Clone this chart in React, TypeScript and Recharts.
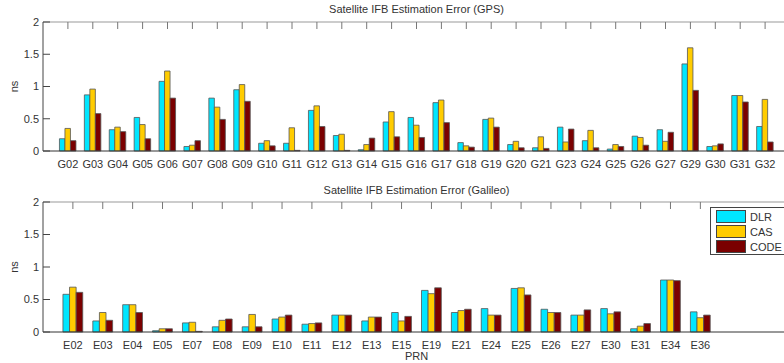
import React from 'react';
import { BarChart, Bar, XAxis, YAxis } from 'recharts';

const gpsPrn = ['G02', 'G03', 'G04', 'G05', 'G06', 'G07', 'G08', 'G09', 'G10', 'G11', 'G12', 'G13', 'G14', 'G15', 'G16', 'G17', 'G18', 'G19', 'G20', 'G21', 'G23', 'G24', 'G25', 'G26', 'G27', 'G29', 'G30', 'G31', 'G32'];
const gpsDlr = [0.19, 0.87, 0.33, 0.52, 1.08, 0.07, 0.82, 0.95, 0.12, 0.12, 0.63, 0.24, 0.02, 0.45, 0.52, 0.75, 0.13, 0.49, 0.10, 0.05, 0.37, 0.16, 0.03, 0.23, 0.33, 1.35, 0.07, 0.86, 0.38];
const gpsCas = [0.35, 0.96, 0.37, 0.41, 1.24, 0.09, 0.68, 1.03, 0.16, 0.36, 0.70, 0.26, 0.10, 0.61, 0.40, 0.79, 0.08, 0.51, 0.15, 0.22, 0.14, 0.32, 0.10, 0.21, 0.15, 1.60, 0.08, 0.86, 0.80];
const gpsCode = [0.16, 0.58, 0.30, 0.19, 0.82, 0.16, 0.49, 0.77, 0.08, 0.01, 0.38, 0.01, 0.20, 0.22, 0.21, 0.44, 0.06, 0.37, 0.05, 0.04, 0.34, 0.05, 0.07, 0.09, 0.29, 0.94, 0.11, 0.76, 0.14];

const galPrn = ['E02', 'E03', 'E04', 'E05', 'E07', 'E08', 'E09', 'E10', 'E11', 'E12', 'E13', 'E15', 'E19', 'E21', 'E24', 'E25', 'E26', 'E27', 'E30', 'E31', 'E34', 'E36'];
const galDlr = [0.58, 0.17, 0.42, 0.02, 0.14, 0.08, 0.08, 0.20, 0.12, 0.26, 0.17, 0.30, 0.64, 0.30, 0.36, 0.67, 0.35, 0.26, 0.36, 0.05, 0.80, 0.31];
const galCas = [0.69, 0.30, 0.42, 0.05, 0.15, 0.18, 0.27, 0.23, 0.13, 0.26, 0.23, 0.17, 0.59, 0.33, 0.26, 0.68, 0.30, 0.26, 0.28, 0.09, 0.80, 0.22];
const galCode = [0.61, 0.18, 0.30, 0.05, 0.01, 0.20, 0.08, 0.26, 0.14, 0.26, 0.23, 0.24, 0.68, 0.35, 0.26, 0.57, 0.30, 0.34, 0.31, 0.13, 0.79, 0.26];

const yTicks = [0, 0.5, 1, 1.5, 2];

const SERIES = [
  { key: 'DLR', color: '#00e6ff' },
  { key: 'CAS', color: '#ffcc00' },
  { key: 'CODE', color: '#7a0000' },
];

const FONT = '"Liberation Sans", Arial, sans-serif';
const TEXT = '#333';

const gpsData = gpsPrn.map((prn, i) => ({ prn, DLR: gpsDlr[i], CAS: gpsCas[i], CODE: gpsCode[i] }));
const galData = galPrn.map((prn, i) => ({ prn, DLR: galDlr[i], CAS: galCas[i], CODE: galCode[i] }));

const tickStyle = { fontSize: 11, fill: TEXT, fontFamily: FONT };

const NsLabel = (p: any) => {
  const vb = p.viewBox;
  const cx = 14;
  const cy = vb.y + vb.height / 2;
  return (
    <text x={cx} y={cy} transform={`rotate(-90 ${cx} ${cy})`} textAnchor="middle" dominantBaseline="central" fontSize={11} fill={TEXT} fontFamily={FONT}>
      ns
    </text>
  );
};

const PrnLabel = (p: any) => {
  const vb = p.viewBox;
  return (
    <text x={vb.x + vb.width / 2} y={vb.y + 28} textAnchor="middle" fontSize={11} fill={TEXT} fontFamily={FONT}>
      PRN
    </text>
  );
};

interface PanelProps {
  data: any[];
  height: number;
  axisHeight: number;
  barSize: number;
  padLeft: number;
  padRight: number;
  prn?: boolean;
}

const Panel: React.FC<PanelProps> = ({ data, height, axisHeight, barSize, padLeft, padRight, prn }) => (
  <BarChart width={800} height={height} data={data} margin={{ top: 12, right: 0, left: 0, bottom: 0 }} barGap={0}>
    <XAxis
      xAxisId="top"
      orientation="top"
      dataKey="prn"
      height={10}
      padding={{ left: padLeft, right: padRight }}
      interval={0}
      tickSize={-7}
      tickFormatter={() => ''}
      stroke="#999"
      tickLine={{ stroke: '#777' }}
    />
    <XAxis
      dataKey="prn"
      height={axisHeight}
      padding={{ left: padLeft, right: padRight }}
      interval={0}
      tickLine={false}
      tickMargin={3}
      tick={tickStyle}
      stroke="#333"
      label={prn ? { content: PrnLabel } : undefined}
    />
    <YAxis
      domain={[0, 2]}
      ticks={yTicks}
      width={43}
      tickSize={-7}
      tickMargin={11}
      tick={tickStyle}
      stroke="#444"
      label={{ content: NsLabel }}
    />
    <YAxis
      yAxisId="r"
      orientation="right"
      domain={[0, 2]}
      ticks={yTicks}
      width={10}
      tickSize={-7}
      tickFormatter={() => ''}
      stroke="#444"
    />
    {SERIES.map((s) => (
      <Bar key={s.key} dataKey={s.key} fill={s.color} stroke="#555" strokeWidth={0.8} barSize={barSize} isAnimationActive={false} />
    ))}
  </BarChart>
);

const titleStyle: React.CSSProperties = {
  position: 'absolute',
  left: 43,
  width: 747,
  textAlign: 'center',
  fontSize: 11,
  lineHeight: '12px',
  color: TEXT,
  fontFamily: FONT,
};

const LegendBox = () => (
  <div
    style={{
      position: 'absolute',
      left: 710,
      top: 207,
      width: 100,
      height: 45,
      padding: '1px 0 0 5px',
      border: '1px solid #444',
      background: '#fff',
      fontFamily: FONT,
      fontSize: 11,
      color: TEXT,
      whiteSpace: 'nowrap',
    }}
  >
    {SERIES.map((s) => (
      <div key={s.key} style={{ display: 'flex', alignItems: 'center', height: 15 }}>
        <span style={{ width: 28, height: 11, background: s.color, border: '1px solid #444', display: 'inline-block', flexShrink: 0 }} />
        <span style={{ marginLeft: 4 }}>{s.key}</span>
      </div>
    ))}
  </div>
);

export default function App() {
  return (
    <div style={{ position: 'absolute', left: 0, top: 0, width: 784, height: 363, overflow: 'hidden', background: '#fff' }}>
      <div style={{ position: 'absolute', left: 0, top: 0 }}>
        <Panel data={gpsData} height={170} axisHeight={19} barSize={5.5} padLeft={12.45} padRight={12.45} />
      </div>
      <div style={{ position: 'absolute', left: 0, top: 180 }}>
        <Panel data={galData} height={183} axisHeight={31} barSize={6.6} padLeft={14.94} padRight={74.7} prn />
      </div>
      <div style={{ ...titleStyle, top: 3 }}>Satellite IFB Estimation Error (GPS)</div>
      <div style={{ ...titleStyle, top: 184 }}>Satellite IFB Estimation Error (Galileo)</div>
      <LegendBox />
    </div>
  );
}
